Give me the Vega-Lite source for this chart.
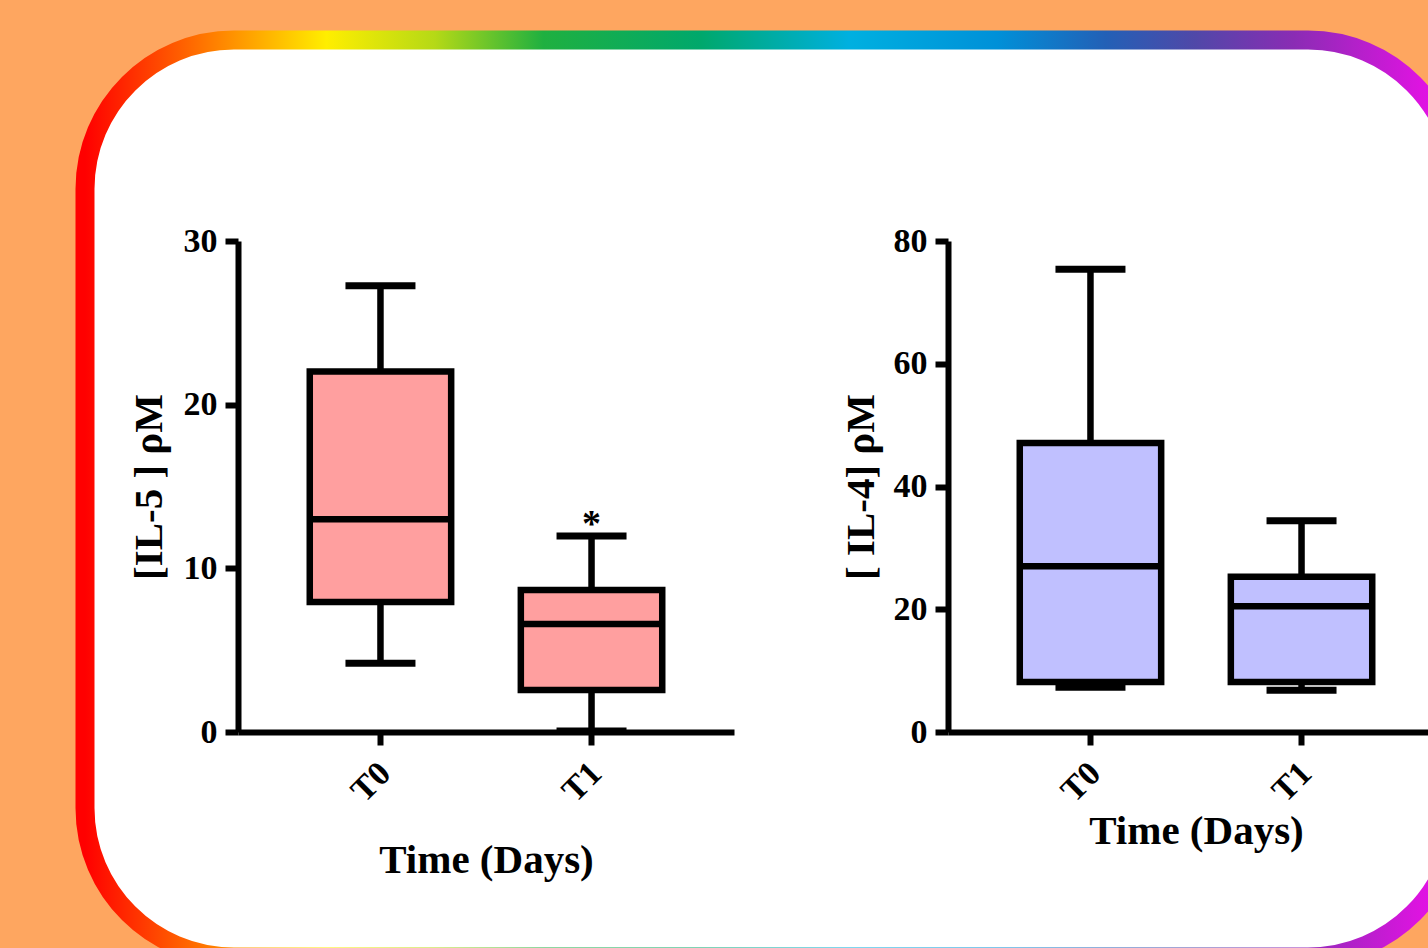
{
  "$schema": "https://vega.github.io/schema/vega-lite/v6.json",
  "width": 1372,
  "height": 917,
  "autosize": "none",
  "padding": {"left": 85, "top": 40, "right": 10, "bottom": 10},
  "background": "#FEA660",
  "config": {
    "view": {
      "fill": "white",
      "stroke": {
        "gradient": "linear", "x1": 0, "y1": 0, "x2": 1, "y2": 0,
        "stops": [
          {"offset": 0, "color": "#FF0000"},
          {"offset": 0.09, "color": "#FF7A00"},
          {"offset": 0.176, "color": "#FFEE00"},
          {"offset": 0.255, "color": "#B5D916"},
          {"offset": 0.334, "color": "#1FB040"},
          {"offset": 0.449, "color": "#00A86C"},
          {"offset": 0.557, "color": "#00B0E0"},
          {"offset": 0.665, "color": "#0090D8"},
          {"offset": 0.744, "color": "#2360B6"},
          {"offset": 0.809, "color": "#5048A8"},
          {"offset": 0.881, "color": "#8A2CB4"},
          {"offset": 0.973, "color": "#DD14E0"},
          {"offset": 1, "color": "#E810F0"}
        ]
      },
      "strokeWidth": 19,
      "cornerRadius": 149
    },
    "font": "Liberation Serif",
    "axis": {
      "grid": false,
      "domainColor": "black",
      "domainWidth": 6,
      "tickColor": "black",
      "tickWidth": 6,
      "tickSize": 13,
      "labelColor": "black",
      "labelFont": "Liberation Serif",
      "labelFontWeight": "bold",
      "labelFontSize": 34,
      "labelPadding": 8,
      "titleColor": "black",
      "titleFont": "Liberation Serif",
      "titleFontWeight": "bold",
      "titleFontSize": 41
    }
  },
  "layer": [
    {
      "data": {"values": [
        {"time": "T0", "min": 4.2, "q1": 7.94, "median": 13.0, "q3": 22.03, "max": 27.27, "sig": ""},
        {"time": "T1", "min": 0.06, "q1": 2.57, "median": 6.6, "q3": 8.68, "max": 11.98, "sig": "*"}
      ]},
      "encoding": {
        "x": {
          "field": "time", "type": "nominal",
          "scale": {"range": [153, 649], "paddingInner": 0.33, "paddingOuter": 0.34},
          "axis": {"orient": "bottom", "offset": -225, "labelAngle": -45, "labelPadding": 11, "labelOffset": -7, "title": "Time (Days)", "titleY": 140, "titleBaseline": "alphabetic"}
        }
      },
      "layer": [
        {
          "mark": {"type": "rule", "strokeWidth": 6.5, "color": "black"},
          "encoding": {
            "y": {"field": "min", "type": "quantitative", "title": "[IL-5 ] ρM",
              "scale": {"domain": [0, 30], "range": [692, 201], "nice": false, "zero": false},
              "axis": {"orient": "left", "offset": -153, "values": [0, 10, 20, 30], "titleX": -77, "titleY": 446.5, "titleBaseline": "alphabetic"}},
            "y2": {"field": "max"}
          }
        },
        {
          "mark": {"type": "tick", "size": 70, "thickness": 7, "color": "black", "opacity": 1},
          "encoding": {"y": {"field": "min", "type": "quantitative", "title": "[IL-5 ] ρM", "scale": {"domain": [0, 30], "range": [692, 201], "nice": false, "zero": false}}}
        },
        {
          "mark": {"type": "tick", "size": 70, "thickness": 7, "color": "black", "opacity": 1},
          "encoding": {"y": {"field": "max", "type": "quantitative", "title": "[IL-5 ] ρM", "scale": {"domain": [0, 30], "range": [692, 201], "nice": false, "zero": false}}}
        },
        {
          "mark": {"type": "bar", "fill": "#FF9F9F", "stroke": "black", "strokeWidth": 6.5},
          "encoding": {
            "y": {"field": "q1", "type": "quantitative", "title": "[IL-5 ] ρM", "scale": {"domain": [0, 30], "range": [692, 201], "nice": false, "zero": false}},
            "y2": {"field": "q3"}
          }
        },
        {
          "mark": {"type": "tick", "size": 141, "thickness": 6.5, "color": "black", "opacity": 1},
          "encoding": {"y": {"field": "median", "type": "quantitative", "title": "[IL-5 ] ρM", "scale": {"domain": [0, 30], "range": [692, 201], "nice": false, "zero": false}}}
        },
        {
          "mark": {"type": "text", "font": "Liberation Serif", "fontSize": 38, "fontWeight": "bold", "baseline": "alphabetic", "dy": 0, "color": "black"},
          "encoding": {
            "y": {"field": "max", "type": "quantitative", "title": "[IL-5 ] ρM", "scale": {"domain": [0, 30], "range": [692, 201], "nice": false, "zero": false}},
            "text": {"field": "sig"}
          }
        }
      ]
    },
    {
      "data": {"values": [
        {"time": "T0", "min": 7.3, "q1": 8.15, "median": 27.0, "q3": 47.1, "max": 75.4},
        {"time": "T1", "min": 6.8, "q1": 8.15, "median": 20.5, "q3": 25.3, "max": 34.4}
      ]},
      "encoding": {
        "x": {
          "field": "time", "type": "nominal",
          "scale": {"range": [863, 1359], "paddingInner": 0.33, "paddingOuter": 0.34},
          "axis": {"orient": "bottom", "offset": -225, "labelAngle": -45, "labelPadding": 11, "labelOffset": -7, "title": "Time (Days)", "titleY": 111, "titleBaseline": "alphabetic"}
        }
      },
      "layer": [
        {
          "mark": {"type": "rule", "strokeWidth": 6.5, "color": "black"},
          "encoding": {
            "y": {"field": "min", "type": "quantitative", "title": "[ IL-4] ρM",
              "scale": {"domain": [0, 80], "range": [692, 201], "nice": false, "zero": false},
              "axis": {"orient": "left", "offset": -863, "values": [0, 20, 40, 60, 80], "titleX": -75, "titleY": 446.5, "titleBaseline": "alphabetic"}},
            "y2": {"field": "max"}
          }
        },
        {
          "mark": {"type": "tick", "size": 70, "thickness": 7, "color": "black", "opacity": 1},
          "encoding": {"y": {"field": "min", "type": "quantitative", "title": "[ IL-4] ρM", "scale": {"domain": [0, 80], "range": [692, 201], "nice": false, "zero": false}}}
        },
        {
          "mark": {"type": "tick", "size": 70, "thickness": 7, "color": "black", "opacity": 1},
          "encoding": {"y": {"field": "max", "type": "quantitative", "title": "[ IL-4] ρM", "scale": {"domain": [0, 80], "range": [692, 201], "nice": false, "zero": false}}}
        },
        {
          "mark": {"type": "bar", "fill": "#C0C0FF", "stroke": "black", "strokeWidth": 6.5},
          "encoding": {
            "y": {"field": "q1", "type": "quantitative", "title": "[ IL-4] ρM", "scale": {"domain": [0, 80], "range": [692, 201], "nice": false, "zero": false}},
            "y2": {"field": "q3"}
          }
        },
        {
          "mark": {"type": "tick", "size": 141, "thickness": 6.5, "color": "black", "opacity": 1},
          "encoding": {"y": {"field": "median", "type": "quantitative", "title": "[ IL-4] ρM", "scale": {"domain": [0, 80], "range": [692, 201], "nice": false, "zero": false}}}
        }
      ]
    }
  ],
  "resolve": {
    "scale": {"x": "independent", "y": "independent"},
    "axis": {"x": "independent", "y": "independent"}
  }
}
